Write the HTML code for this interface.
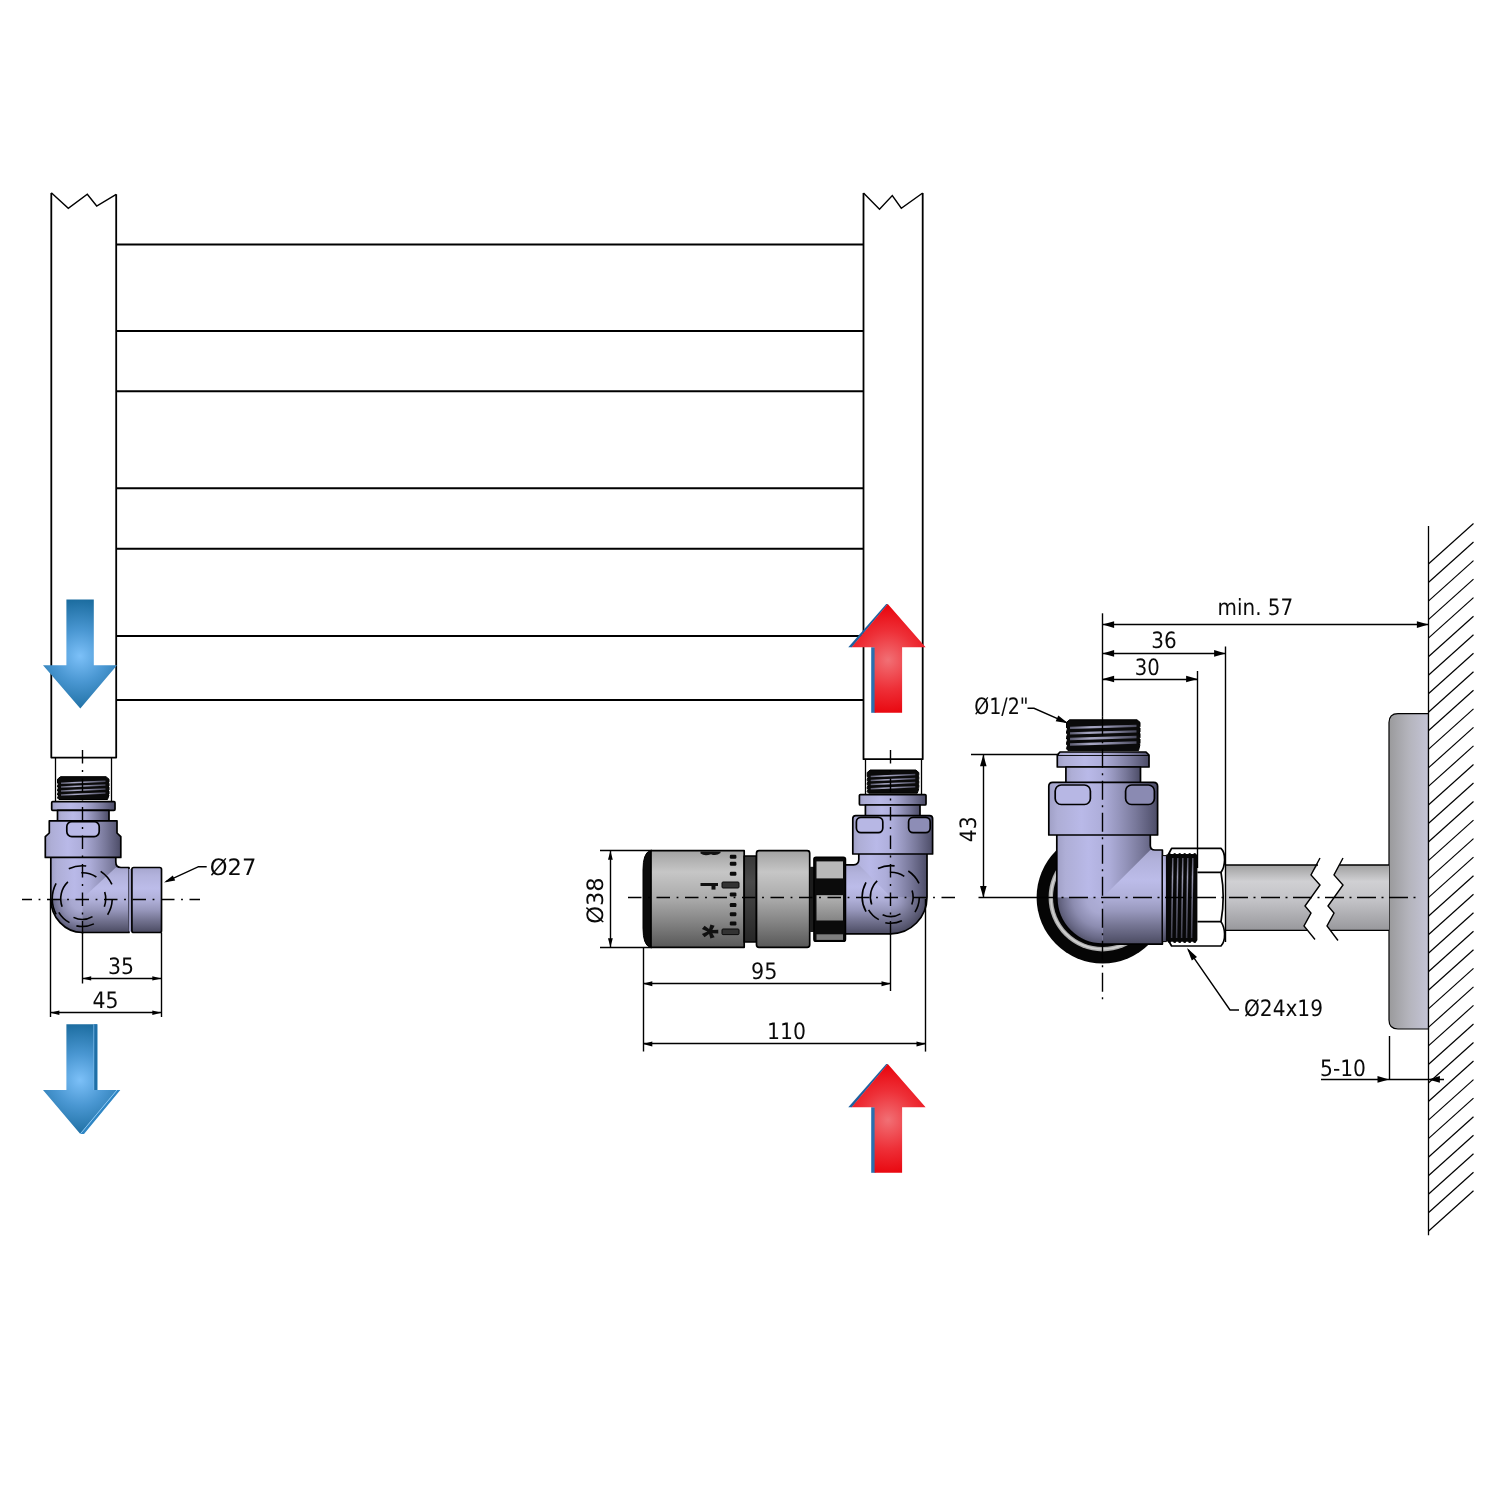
<!DOCTYPE html>
<html lang="en"><head><meta charset="utf-8"><title>Valve set dimensions</title>
<style>
html,body{margin:0;padding:0;background:#fff;}
body{width:1500px;height:1500px;overflow:hidden;font-family:"Liberation Sans",sans-serif;}
svg{display:block;position:absolute;left:0;top:0;}
.t{font-family:"DejaVu Sans Condensed", "Liberation Sans", sans-serif;font-size:22.5px;fill:#0a0a0a;}
.o{stroke:#000;stroke-width:1.7;fill:none;stroke-linejoin:round;}
.d{stroke:#000;stroke-width:1.4;fill:none;}
.c{stroke:#000;stroke-width:1.4;fill:none;stroke-dasharray:13.5 6.6 1.8 6.6;}
.c2{stroke:#000;stroke-width:1.4;fill:none;stroke-dasharray:19 5.5 2 5.5;}
.h{stroke:#000;stroke-width:1.3;fill:none;stroke-dasharray:11 6;}
.ah{fill:#000;stroke:none;}
text{text-rendering:geometricPrecision;}
</style></head><body>
<svg width="1500" height="1500" viewBox="0 0 1500 1500">
<defs>
<linearGradient id="gv" x1="0" y1="0" x2="1" y2="0">
 <stop offset="0" stop-color="#a0a0c6"/><stop offset="0.08" stop-color="#aeaed6"/><stop offset="0.3" stop-color="#b9b9e8"/><stop offset="0.5" stop-color="#adadd9"/><stop offset="0.65" stop-color="#9494bb"/><stop offset="0.8" stop-color="#78789a"/><stop offset="0.92" stop-color="#5e5e7c"/><stop offset="1" stop-color="#4c4c66"/>
</linearGradient>
<linearGradient id="gh" x1="0" y1="0" x2="0" y2="1">
 <stop offset="0" stop-color="#a6a6ce"/><stop offset="0.12" stop-color="#b2b2dc"/><stop offset="0.32" stop-color="#bcbce9"/><stop offset="0.5" stop-color="#b0b0d9"/><stop offset="0.65" stop-color="#9898bd"/><stop offset="0.8" stop-color="#767694"/><stop offset="0.92" stop-color="#5c5c76"/><stop offset="1" stop-color="#4a4a60"/>
</linearGradient>
<linearGradient id="gfl" x1="0" y1="0" x2="1" y2="0">
 <stop offset="0" stop-color="#a0a0c6"/><stop offset="0.08" stop-color="#aeaed6"/><stop offset="0.3" stop-color="#b9b9e8"/><stop offset="0.5" stop-color="#adadd9"/><stop offset="0.65" stop-color="#9494bb"/><stop offset="0.8" stop-color="#78789a"/><stop offset="0.92" stop-color="#5e5e7c"/><stop offset="1" stop-color="#4c4c66"/>
</linearGradient>
<linearGradient id="gg" x1="0" y1="0" x2="0" y2="1">
 <stop offset="0" stop-color="#a2a2a2"/><stop offset="0.22" stop-color="#c6c6c6"/><stop offset="0.5" stop-color="#aaaaaa"/><stop offset="0.75" stop-color="#828282"/><stop offset="1" stop-color="#585858"/>
</linearGradient>
<linearGradient id="gdk" x1="0" y1="0" x2="0" y2="1">
 <stop offset="0" stop-color="#383838"/><stop offset="0.3" stop-color="#4a4a4a"/><stop offset="1" stop-color="#262626"/>
</linearGradient>
<linearGradient id="gpipe" x1="0" y1="0" x2="0" y2="1">
 <stop offset="0" stop-color="#a0a0a0"/><stop offset="0.25" stop-color="#d0d0d3"/><stop offset="0.55" stop-color="#c2c2c6"/><stop offset="1" stop-color="#98989c"/>
</linearGradient>
<linearGradient id="gros" x1="0" y1="0" x2="1" y2="0">
 <stop offset="0" stop-color="#9a9a9c"/><stop offset="0.5" stop-color="#b4b4bc"/><stop offset="1" stop-color="#c4c4d6"/>
</linearGradient>
<linearGradient id="gg2" x1="0" y1="0" x2="0" y2="1">
 <stop offset="0" stop-color="#b4b4b4"/><stop offset="1" stop-color="#858585"/>
</linearGradient>
<linearGradient id="gh3" gradientUnits="userSpaceOnUse" x1="0" y1="850" x2="0" y2="944">
 <stop offset="0" stop-color="#a6a6ce"/><stop offset="0.12" stop-color="#b2b2dc"/><stop offset="0.32" stop-color="#bcbce9"/><stop offset="0.5" stop-color="#b0b0d9"/><stop offset="0.65" stop-color="#9898bd"/><stop offset="0.8" stop-color="#767694"/><stop offset="0.92" stop-color="#5c5c76"/><stop offset="1" stop-color="#4a4a60"/>
</linearGradient>
<linearGradient id="gth" gradientUnits="objectBoundingBox" x1="0" y1="0" x2="1" y2="0">
 <stop offset="0" stop-color="#5c5c70"/><stop offset="0.3" stop-color="#a8a8c4"/><stop offset="0.55" stop-color="#9494b0"/><stop offset="1" stop-color="#4a4a5c"/>
</linearGradient>
<linearGradient id="gh1" gradientUnits="userSpaceOnUse" x1="0" y1="867.5" x2="0" y2="932.5">
 <stop offset="0" stop-color="#a6a6ce"/><stop offset="0.12" stop-color="#b2b2dc"/><stop offset="0.32" stop-color="#bcbce9"/><stop offset="0.5" stop-color="#b0b0d9"/><stop offset="0.65" stop-color="#9898bd"/><stop offset="0.8" stop-color="#767694"/><stop offset="0.92" stop-color="#5c5c76"/><stop offset="1" stop-color="#4a4a60"/>
</linearGradient>
<linearGradient id="gh2" gradientUnits="userSpaceOnUse" x1="0" y1="864.8" x2="0" y2="933.8">
 <stop offset="0" stop-color="#a6a6ce"/><stop offset="0.12" stop-color="#b2b2dc"/><stop offset="0.32" stop-color="#bcbce9"/><stop offset="0.5" stop-color="#b0b0d9"/><stop offset="0.65" stop-color="#9898bd"/><stop offset="0.8" stop-color="#767694"/><stop offset="0.92" stop-color="#5c5c76"/><stop offset="1" stop-color="#4a4a60"/>
</linearGradient>
<linearGradient id="gth2" gradientUnits="userSpaceOnUse" x1="0" y1="856" x2="0" y2="940">
 <stop offset="0" stop-color="#4c4c5c"/><stop offset="0.25" stop-color="#9a9ab2"/><stop offset="0.5" stop-color="#6e6e84"/><stop offset="1" stop-color="#3a3a48"/>
</linearGradient>
<radialGradient id="gq1" gradientUnits="userSpaceOnUse" cx="82.2" cy="898.8" r="33.6">
 <stop offset="0" stop-color="#b0b0da"/><stop offset="0.35" stop-color="#a8a8d0"/><stop offset="0.65" stop-color="#8c8cb0"/><stop offset="0.88" stop-color="#6a6a88"/><stop offset="1" stop-color="#55556e"/>
</radialGradient>
<radialGradient id="gq2" gradientUnits="userSpaceOnUse" cx="890.8" cy="897" r="36.6">
 <stop offset="0" stop-color="#b0b0da"/><stop offset="0.3" stop-color="#9898bd"/><stop offset="0.6" stop-color="#767694"/><stop offset="0.84" stop-color="#5c5c76"/><stop offset="1" stop-color="#4a4a60"/>
</radialGradient>
<radialGradient id="gq3" gradientUnits="userSpaceOnUse" cx="1102.6" cy="897.4" r="46.2">
 <stop offset="0" stop-color="#b0b0da"/><stop offset="0.35" stop-color="#a8a8d0"/><stop offset="0.65" stop-color="#8c8cb0"/><stop offset="0.88" stop-color="#6a6a88"/><stop offset="1" stop-color="#55556e"/>
</radialGradient>
<radialGradient id="gblue" gradientUnits="userSpaceOnUse" cx="80" cy="656" r="62">
 <stop offset="0" stop-color="#7cc0f8"/><stop offset="0.42" stop-color="#4a97d2"/><stop offset="0.92" stop-color="#1b6c9f"/><stop offset="1" stop-color="#1b6c9f"/>
</radialGradient>
<radialGradient id="gblue2" gradientUnits="userSpaceOnUse" cx="80" cy="1080" r="62">
 <stop offset="0" stop-color="#7cc0f8"/><stop offset="0.42" stop-color="#4a97d2"/><stop offset="0.92" stop-color="#1b6c9f"/><stop offset="1" stop-color="#1b6c9f"/>
</radialGradient>
<radialGradient id="gred" gradientUnits="userSpaceOnUse" cx="888" cy="660" r="58">
 <stop offset="0" stop-color="#f17075"/><stop offset="0.5" stop-color="#ee3038"/><stop offset="1" stop-color="#e80008"/>
</radialGradient>
<radialGradient id="gred2" gradientUnits="userSpaceOnUse" cx="888" cy="1120" r="58">
 <stop offset="0" stop-color="#f17075"/><stop offset="0.5" stop-color="#ee3038"/><stop offset="1" stop-color="#e80008"/>
</radialGradient>
</defs>
<rect x="0" y="0" width="1500" height="1500" fill="#fff"/>

<!-- radiator -->
<line class="o" x1="116.2" y1="244.6" x2="863.5" y2="244.6" style="stroke-width:2"/>
<line class="o" x1="116.2" y1="331.0" x2="863.5" y2="331.0" style="stroke-width:2"/>
<line class="o" x1="116.2" y1="391.3" x2="863.5" y2="391.3" style="stroke-width:2"/>
<line class="o" x1="116.2" y1="488.3" x2="863.5" y2="488.3" style="stroke-width:2"/>
<line class="o" x1="116.2" y1="548.7" x2="863.5" y2="548.7" style="stroke-width:2"/>
<line class="o" x1="116.2" y1="636.0" x2="863.5" y2="636.0" style="stroke-width:2"/>
<line class="o" x1="116.2" y1="700.0" x2="863.5" y2="700.0" style="stroke-width:2"/>
<path class="o" style="stroke-width:1.8" d="M51.3,193 V757.6 H116.2 V194.3"/>
<path class="d" d="M51.3,192.7 L68.3,208.3 L87.3,194.3 L96.7,206 L116.2,194.3"/>
<path class="o" style="stroke-width:1.8" d="M863.5,193 V759.2 H922.7 V193"/>
<path class="d" d="M863.5,193 L879.5,209.3 L892.3,195.5 L901.3,208.2 L922.7,193"/>
<!-- flow arrows -->
<path d="M66.4,599.5 H93.8 V665.3 H117 L80.3,708.5 L43,665.3 H66.4 Z" fill="url(#gblue)"/>
<path d="M93.8,1024.3 H97.3 V1090 H120.3 L84,1133.9 H80.3 L117,1090 H93.8 Z" fill="#2f86c4"/>
<path d="M93.8,1024.3 H97.3 V1090 H93.8 Z" fill="#1f6fa6"/>
<path d="M66.4,1024.3 H93.8 V1090 H117 L80.3,1133.9 L43,1090 H66.4 Z" fill="url(#gblue2)"/>
<path d="M117,1090 L80.3,1133.9" stroke="#8ccaf6" stroke-width="0.9" fill="none"/>
<path d="M93.8,1024.3 V1090" stroke="#6db2e6" stroke-width="0.8" fill="none"/>
<path d="M848.3,647.2 L886.2,604.0 H888 L852,647.2 Z" fill="#1f62a0"/>
<path d="M871.2,647.2 H875.5 V712.8 H871.2 Z" fill="#2a6fae"/>
<path d="M887.8,604.0 L925.6,647.2 H902.1 V712.8 H874.6 V647.2 H851.6 Z" fill="url(#gred)"/>
<path d="M848.3,1107.2 L886.2,1064.0 H888 L852,1107.2 Z" fill="#1f62a0"/>
<path d="M871.2,1107.2 H875.5 V1172.8 H871.2 Z" fill="#2a6fae"/>
<path d="M887.8,1064.0 L925.6,1107.2 H902.1 V1172.8 H874.6 V1107.2 H851.6 Z" fill="url(#gred2)"/>
<!-- left return valve -->
<line class="d" x1="55.5" y1="757.6" x2="55.5" y2="801.7" style="stroke-width:1.3"/>
<line class="d" x1="111.5" y1="757.6" x2="111.5" y2="801.7" style="stroke-width:1.3"/>
<path d="M60.5,776.7 H106.0 L109.0,779.2 L109.0,782.2 L107.8,783.2 L109.0,783.2 L109.0,786.1 L107.8,787.1 L109.0,787.1 L109.0,790.1 L107.8,791.1 L109.0,791.1 L109.0,794.1 L107.8,795.0 L109.0,795.1 L107.5,799.5 H59.0 L57.5,798.0 L58.7,795.0 L57.5,795.0 L57.5,794.1 L58.7,791.1 L57.5,791.1 L57.5,790.1 L58.7,787.1 L57.5,787.1 L57.5,786.1 L58.7,783.2 L57.5,783.2 L57.5,779.2 Z" fill="#0a0a0a" stroke="#000" stroke-width="1"/>
<line x1="61.0" y1="783.2" x2="105.5" y2="781.2" stroke="url(#gth)" stroke-width="1.5"/>
<line x1="61.0" y1="787.1" x2="105.5" y2="785.1" stroke="url(#gth)" stroke-width="1.5"/>
<line x1="61.0" y1="791.1" x2="105.5" y2="789.1" stroke="url(#gth)" stroke-width="1.5"/>
<line x1="61.0" y1="795.0" x2="105.5" y2="793.0" stroke="url(#gth)" stroke-width="1.5"/>
<rect class="o" x="51.7" y="801.7" width="63.3" height="8.6" rx="1" ry="1" style="fill:url(#gfl)" />
<rect class="o" x="57.5" y="810.3" width="51.5" height="11.7" rx="0" ry="0" style="fill:url(#gv)" />
<clipPath id="cl1"><path d="M50.8,856 V899 A31.4,33.7 0 0 0 82.2,932.5 H129 V867.5 H121 Q115.8,867.5 115.8,862 V856 Z"/></clipPath>
<path d="M50.8,856 V899 A31.4,33.7 0 0 0 82.2,932.5 H129 V867.5 H121 Q115.8,867.5 115.8,862 V856 Z" fill="url(#gv)"/>
<g clip-path="url(#cl1)"><polygon points="115.8,867.5 130,867.5 130,933 82.2,933 82.2,898.8" fill="url(#gh1)"/><rect x="49" y="898.8" width="33.2" height="35" fill="url(#gq1)"/></g>
<path class="o" d="M50.8,856 V899 A31.4,33.7 0 0 0 82.2,932.5 H129 V867.5 H121 Q115.8,867.5 115.8,862 V856 Z"/>
<path class="o" d="M49.3,820.8 H117 V833 L120.8,836.7 V857.4 H45.3 V836.7 L49.3,833 Z" style="fill:url(#gv)"/>
<rect class="o" x="66.8" y="821.6" width="32.4" height="15.0" rx="5" ry="5" style="fill:#b9b9e6" />
<rect x="128.6" y="869" width="3.6" height="62.5" fill="#9a9ac2"/>
<rect class="o" x="131.9" y="867.5" width="29.6" height="65.0" rx="1.8" ry="1.8" style="fill:url(#gh)" />
<path d="M68.8,868.7 A33.0,33.0 0 0 1 86.2,866.0" fill="none" stroke="#000" stroke-width="1.6" stroke-linecap="butt"/>
<path d="M100.7,871.4 A33.0,33.0 0 0 1 111.9,884.3" fill="none" stroke="#000" stroke-width="1.6" stroke-linecap="butt"/>
<path d="M56.1,914.3 A33.0,33.0 0 0 1 56.1,883.3" fill="none" stroke="#000" stroke-width="1.6" stroke-linecap="butt"/>
<path d="M112.2,899.8 A30.0,30.0 0 0 1 107.6,914.7" fill="none" stroke="#000" stroke-width="1.6" stroke-linecap="butt"/>
<path d="M93.9,923.9 A27.7,27.7 0 0 1 76.4,925.9" fill="none" stroke="#000" stroke-width="1.6" stroke-linecap="butt"/>
<path d="M81.3,872.8 A26.0,26.0 0 0 1 96.4,877.0" fill="none" stroke="#000" stroke-width="1.6" stroke-linecap="butt"/>
<path d="M62.1,906.8 A23.5,23.5 0 0 1 67.9,881.9" fill="none" stroke="#000" stroke-width="1.6" stroke-linecap="butt"/>
<path d="M104.7,891.9 A23.5,23.5 0 0 1 104.3,906.8" fill="none" stroke="#000" stroke-width="1.6" stroke-linecap="butt"/>
<path d="M92.5,916.6 A20.5,20.5 0 0 1 73.5,917.4" fill="none" stroke="#000" stroke-width="1.6" stroke-linecap="butt"/>
<path d="M69.5,922.6 A27.0,27.0 0 0 1 58.8,912.3" fill="none" stroke="#000" stroke-width="1.6" stroke-linecap="butt"/>
<line class="c" x1="22.0" y1="899.5" x2="200.0" y2="899.5" stroke-dashoffset="3.5"/>
<line class="c" x1="82.5" y1="750.0" x2="82.5" y2="934.0" />
<line class="d" x1="50.5" y1="899.0" x2="50.5" y2="1017.0" />
<line class="d" x1="82.5" y1="932.5" x2="82.5" y2="983.5" />
<line class="d" x1="161.5" y1="932.5" x2="161.5" y2="1017.0" />
<line class="d" x1="82.2" y1="978.5" x2="161.3" y2="978.5" />
<polygon class="ah" points="82.2,978.4 91.2,980.6 91.2,976.2"/>
<polygon class="ah" points="161.3,978.4 152.3,976.2 152.3,980.6"/>
<line class="d" x1="50.4" y1="1012.5" x2="161.3" y2="1012.5" />
<polygon class="ah" points="50.4,1012.7 59.4,1014.9 59.4,1010.5"/>
<polygon class="ah" points="161.3,1012.7 152.3,1010.5 152.3,1014.9"/>
<g style="filter:grayscale(1)"><text class="t" x="108.0" y="974.0" textLength="26.0" lengthAdjust="spacingAndGlyphs">35</text></g>
<g style="filter:grayscale(1)"><text class="t" x="92.6" y="1008.0" textLength="26.0" lengthAdjust="spacingAndGlyphs">45</text></g>
<polyline class="d" points="206.7,866.7 198.5,866.7 166,881.6"/>
<polygon class="ah" points="164.0,882.5 175.2,880.5 172.8,875.4"/>
<g style="filter:grayscale(1)"><text class="t" x="209.8" y="875.0" textLength="46.5" lengthAdjust="spacingAndGlyphs">Ø27</text></g>
<!-- thermostatic valve -->
<line class="d" x1="865.5" y1="759.2" x2="865.5" y2="794.6" style="stroke-width:1.3"/>
<line class="d" x1="921.5" y1="759.2" x2="921.5" y2="794.6" style="stroke-width:1.3"/>
<path d="M870.2,770.0 H915.8 L918.8,772.5 L918.8,775.5 L917.6,776.5 L918.8,776.5 L918.8,779.6 L917.6,780.6 L918.8,780.6 L918.8,783.6 L917.6,784.6 L918.8,784.6 L918.8,787.6 L917.6,788.7 L918.8,788.7 L917.3,793.2 H868.7 L867.2,791.7 L868.4,788.7 L867.2,788.7 L867.2,787.6 L868.4,784.6 L867.2,784.6 L867.2,783.6 L868.4,780.6 L867.2,780.6 L867.2,779.6 L868.4,776.5 L867.2,776.5 L867.2,772.5 Z" fill="#0a0a0a" stroke="#000" stroke-width="1"/>
<line x1="870.7" y1="776.5" x2="915.3" y2="774.5" stroke="url(#gth)" stroke-width="1.5"/>
<line x1="870.7" y1="780.6" x2="915.3" y2="778.6" stroke="url(#gth)" stroke-width="1.5"/>
<line x1="870.7" y1="784.6" x2="915.3" y2="782.6" stroke="url(#gth)" stroke-width="1.5"/>
<line x1="870.7" y1="788.7" x2="915.3" y2="786.7" stroke="url(#gth)" stroke-width="1.5"/>
<rect class="o" x="859.4" y="794.6" width="66.6" height="10.4" rx="1" ry="1" style="fill:url(#gfl)" />
<rect class="o" x="865.4" y="805.0" width="54.6" height="11.5" rx="0" ry="0" style="fill:url(#gv)" />
<clipPath id="cl2"><path d="M858.8,852 V859.5 Q858.8,864.8 853.5,864.8 H845 V933.8 H890.8 A36.2,36.8 0 0 0 927,897 V852 Z"/></clipPath>
<path d="M858.8,852 V859.5 Q858.8,864.8 853.5,864.8 H845 V933.8 H890.8 A36.2,36.8 0 0 0 927,897 V852 Z" fill="url(#gv)"/>
<g clip-path="url(#cl2)"><polygon points="858.8,864.8 844,864.8 844,935 890.8,935 890.8,897" fill="url(#gh2)"/><rect x="890.8" y="897" width="38" height="38" fill="url(#gq2)"/></g>
<path class="o" d="M858.8,852 V859.5 Q858.8,864.8 853.5,864.8 H845 V933.8 H890.8 A36.2,36.8 0 0 0 927,897 V852 Z"/>
<path class="o" d="M855.8,815.6 H929.6 Q932.6,815.6 932.6,818.6 V854 H852.8 V818.6 Q852.8,815.6 855.8,815.6 Z" style="fill:url(#gv)"/>
<rect class="o" x="856.4" y="817.4" width="26.4" height="15.2" rx="4.5" ry="4.5" style="fill:#b7b7e4" />
<rect class="o" x="908.6" y="817.4" width="21.6" height="15.2" rx="4.5" ry="4.5" style="fill:#8d8db6" />
<path d="M652,850.7 H650 Q643,853 643,870 V928 Q643,945 650,947.3 H652 Z" fill="#0b0b0b" stroke="#000" stroke-width="1"/>
<rect class="o" x="651" y="850.7" width="93.2" height="96.6" style="fill:url(#gg)"/>
<rect class="o" x="744.2" y="856" width="12.3" height="86" style="fill:url(#gdk)"/>
<rect class="o" x="756.5" y="850.7" width="53.2" height="96.6" rx="2.5" ry="2.5" style="fill:url(#gg)" />
<rect x="809.7" y="866.8" width="5" height="65.2" fill="#1c1c1c"/>
<rect class="o" x="814.0" y="857.3" width="31.4" height="83.9" rx="2" ry="2" style="fill:#0b0b0b" />
<rect x="816.5" y="861.4" width="26.5" height="17" fill="#b9b9b9"/>
<rect x="816.5" y="895.2" width="26.5" height="25.3" fill="url(#gg2)"/>
<rect x="816.5" y="934.3" width="26.5" height="5.6" fill="#7d7d7d"/>
<rect x="729.8" y="854.8" width="6.6" height="4" rx="1.2" fill="#0c0c0c"/>
<rect x="729.8" y="861.7" width="6.6" height="4" rx="1.2" fill="#0c0c0c"/>
<rect x="729.8" y="871.7" width="6.6" height="4" rx="1.2" fill="#0c0c0c"/>
<rect x="729.8" y="892.4" width="6.6" height="4" rx="1.2" fill="#0c0c0c"/>
<rect x="729.8" y="903.1" width="6.6" height="4" rx="1.2" fill="#0c0c0c"/>
<rect x="729.8" y="912.3" width="6.6" height="4" rx="1.2" fill="#0c0c0c"/>
<rect x="729.8" y="921.5" width="6.6" height="4" rx="1.2" fill="#0c0c0c"/>
<rect x="722" y="882" width="17" height="6" rx="1" fill="#333" stroke="#0a0a0a" stroke-width="1"/><rect x="722" y="929" width="17" height="5.6" rx="1" fill="#333" stroke="#0a0a0a" stroke-width="1"/>
<rect x="700.5" y="883" width="17.5" height="3" fill="#111"/><rect x="711.5" y="885" width="4" height="4.6" fill="#111"/>
<path d="M700.5,851.5 H720.5 V853 Q716,856.5 711,854.2 Q705,856.8 700.5,853.6 Z" fill="#111"/>
<g style="filter:grayscale(1)"><text x="702.3" y="952.5" transform="rotate(90 709.3 931.5)" textLength="14" lengthAdjust="spacingAndGlyphs" style="font-family:&quot;Liberation Sans&quot;,sans-serif;font-weight:bold;font-size:44px;fill:#111">*</text></g>
<path d="M878.0,868.4 A31.3,31.3 0 0 1 894.6,865.9" fill="none" stroke="#000" stroke-width="1.6" stroke-linecap="butt"/>
<path d="M908.3,871.0 A31.3,31.3 0 0 1 919.0,883.3" fill="none" stroke="#000" stroke-width="1.6" stroke-linecap="butt"/>
<path d="M866.0,911.7 A31.3,31.3 0 0 1 866.0,882.3" fill="none" stroke="#000" stroke-width="1.6" stroke-linecap="butt"/>
<path d="M919.3,898.0 A28.5,28.5 0 0 1 915.0,912.1" fill="none" stroke="#000" stroke-width="1.6" stroke-linecap="butt"/>
<path d="M901.9,920.8 A26.3,26.3 0 0 1 885.3,922.7" fill="none" stroke="#000" stroke-width="1.6" stroke-linecap="butt"/>
<path d="M889.9,872.3 A24.7,24.7 0 0 1 904.3,876.3" fill="none" stroke="#000" stroke-width="1.6" stroke-linecap="butt"/>
<path d="M871.7,904.6 A22.3,22.3 0 0 1 877.2,880.9" fill="none" stroke="#000" stroke-width="1.6" stroke-linecap="butt"/>
<path d="M912.1,890.5 A22.3,22.3 0 0 1 911.8,904.6" fill="none" stroke="#000" stroke-width="1.6" stroke-linecap="butt"/>
<path d="M900.5,913.9 A19.5,19.5 0 0 1 882.6,914.7" fill="none" stroke="#000" stroke-width="1.6" stroke-linecap="butt"/>
<path d="M878.8,919.6 A25.6,25.6 0 0 1 868.6,909.8" fill="none" stroke="#000" stroke-width="1.6" stroke-linecap="butt"/>
<line class="c" x1="628.0" y1="897.5" x2="958.0" y2="897.5" />
<line class="c" x1="890.5" y1="750.0" x2="890.5" y2="935.0" />
<line class="d" x1="600.0" y1="850.5" x2="652.0" y2="850.5" />
<line class="d" x1="600.0" y1="947.5" x2="652.0" y2="947.5" />
<line class="d" x1="610.5" y1="850.7" x2="610.5" y2="947.3" />
<polygon class="ah" points="610.4,850.7 608.0,859.7 612.8,859.7"/>
<polygon class="ah" points="610.4,947.3 612.8,938.3 608.0,938.3"/>
<g style="filter:grayscale(1)"><text class="t" x="603.2" y="923.8" textLength="46.5" lengthAdjust="spacingAndGlyphs" transform="rotate(-90 603.2 923.8)">Ø38</text></g>
<line class="d" x1="643.5" y1="947.0" x2="643.5" y2="1051.5" />
<line class="d" x1="890.5" y1="934.0" x2="890.5" y2="991.0" />
<line class="d" x1="925.5" y1="899.0" x2="925.5" y2="1051.6" />
<line class="d" x1="643.0" y1="983.5" x2="890.8" y2="983.5" />
<polygon class="ah" points="643.0,983.8 652.3,986.3 652.3,981.3"/>
<polygon class="ah" points="890.8,983.8 881.5,981.3 881.5,986.3"/>
<line class="d" x1="643.0" y1="1043.5" x2="925.8" y2="1043.5" />
<polygon class="ah" points="643.0,1043.9 652.3,1046.4 652.3,1041.4"/>
<polygon class="ah" points="925.8,1043.9 916.5,1041.4 916.5,1046.4"/>
<g style="filter:grayscale(1)"><text class="t" x="751.0" y="978.7" textLength="26.4" lengthAdjust="spacingAndGlyphs">95</text></g>
<g style="filter:grayscale(1)"><text class="t" x="767.0" y="1038.5" textLength="39.0" lengthAdjust="spacingAndGlyphs">110</text></g>
<!-- side view -->
<line class="d" x1="1428.4" y1="564.0" x2="1473.5" y2="523.5" style="stroke-width:1.2"/>
<line class="d" x1="1428.4" y1="582.5" x2="1473.5" y2="542.0" style="stroke-width:1.2"/>
<line class="d" x1="1428.4" y1="601.1" x2="1473.5" y2="560.6" style="stroke-width:1.2"/>
<line class="d" x1="1428.4" y1="619.6" x2="1473.5" y2="579.1" style="stroke-width:1.2"/>
<line class="d" x1="1428.4" y1="638.1" x2="1473.5" y2="597.6" style="stroke-width:1.2"/>
<line class="d" x1="1428.4" y1="656.7" x2="1473.5" y2="616.2" style="stroke-width:1.2"/>
<line class="d" x1="1428.4" y1="675.2" x2="1473.5" y2="634.7" style="stroke-width:1.2"/>
<line class="d" x1="1428.4" y1="693.8" x2="1473.5" y2="653.3" style="stroke-width:1.2"/>
<line class="d" x1="1428.4" y1="712.3" x2="1473.5" y2="671.8" style="stroke-width:1.2"/>
<line class="d" x1="1428.4" y1="730.8" x2="1473.5" y2="690.3" style="stroke-width:1.2"/>
<line class="d" x1="1428.4" y1="749.4" x2="1473.5" y2="708.9" style="stroke-width:1.2"/>
<line class="d" x1="1428.4" y1="767.9" x2="1473.5" y2="727.4" style="stroke-width:1.2"/>
<line class="d" x1="1428.4" y1="786.4" x2="1473.5" y2="745.9" style="stroke-width:1.2"/>
<line class="d" x1="1428.4" y1="805.0" x2="1473.5" y2="764.5" style="stroke-width:1.2"/>
<line class="d" x1="1428.4" y1="823.5" x2="1473.5" y2="783.0" style="stroke-width:1.2"/>
<line class="d" x1="1428.4" y1="842.0" x2="1473.5" y2="801.5" style="stroke-width:1.2"/>
<line class="d" x1="1428.4" y1="860.6" x2="1473.5" y2="820.1" style="stroke-width:1.2"/>
<line class="d" x1="1428.4" y1="879.1" x2="1473.5" y2="838.6" style="stroke-width:1.2"/>
<line class="d" x1="1428.4" y1="897.6" x2="1473.5" y2="857.1" style="stroke-width:1.2"/>
<line class="d" x1="1428.4" y1="916.2" x2="1473.5" y2="875.7" style="stroke-width:1.2"/>
<line class="d" x1="1428.4" y1="934.7" x2="1473.5" y2="894.2" style="stroke-width:1.2"/>
<line class="d" x1="1428.4" y1="953.3" x2="1473.5" y2="912.8" style="stroke-width:1.2"/>
<line class="d" x1="1428.4" y1="971.8" x2="1473.5" y2="931.3" style="stroke-width:1.2"/>
<line class="d" x1="1428.4" y1="990.3" x2="1473.5" y2="949.8" style="stroke-width:1.2"/>
<line class="d" x1="1428.4" y1="1008.9" x2="1473.5" y2="968.4" style="stroke-width:1.2"/>
<line class="d" x1="1428.4" y1="1027.4" x2="1473.5" y2="986.9" style="stroke-width:1.2"/>
<line class="d" x1="1428.4" y1="1045.9" x2="1473.5" y2="1005.4" style="stroke-width:1.2"/>
<line class="d" x1="1428.4" y1="1064.5" x2="1473.5" y2="1024.0" style="stroke-width:1.2"/>
<line class="d" x1="1428.4" y1="1083.0" x2="1473.5" y2="1042.5" style="stroke-width:1.2"/>
<line class="d" x1="1428.4" y1="1101.5" x2="1473.5" y2="1061.0" style="stroke-width:1.2"/>
<line class="d" x1="1428.4" y1="1120.1" x2="1473.5" y2="1079.6" style="stroke-width:1.2"/>
<line class="d" x1="1428.4" y1="1138.6" x2="1473.5" y2="1098.1" style="stroke-width:1.2"/>
<line class="d" x1="1428.4" y1="1157.2" x2="1473.5" y2="1116.7" style="stroke-width:1.2"/>
<line class="d" x1="1428.4" y1="1175.7" x2="1473.5" y2="1135.2" style="stroke-width:1.2"/>
<line class="d" x1="1428.4" y1="1194.2" x2="1473.5" y2="1153.7" style="stroke-width:1.2"/>
<line class="d" x1="1428.4" y1="1212.8" x2="1473.5" y2="1172.3" style="stroke-width:1.2"/>
<line class="d" x1="1428.4" y1="1231.3" x2="1473.5" y2="1190.8" style="stroke-width:1.2"/>
<line class="d" x1="1428.5" y1="526.0" x2="1428.5" y2="1235.3" style="stroke-width:1.3"/>
<path class="o" style="fill:url(#gros);stroke-width:1.2" d="M1428.4,713.6 H1398 Q1389,713.6 1389,722.6 V1020 Q1389,1029 1398,1029 H1428.4 Z"/>
<path d="M1226,865 H1318 L1311,875 L1320,885 L1305,906 L1311,913 L1304,926 L1307.5,930.4 H1226 Z" fill="url(#gpipe)"/><path d="M1389,865 H1339.5 L1334,875 L1343,885 L1328,906 L1334,913 L1327,926 L1330.5,930.4 H1389 Z" fill="url(#gpipe)"/>
<path class="d" style="stroke-width:1.3" d="M1226,865 H1318 M1226,930.4 H1307.5 M1339.5,865 H1389 M1330.5,930.4 H1389"/>
<polyline class="d" points="1320,858 1311,875 1320,885 1305,906 1311,913 1304,926 1315,939.5"/>
<polyline class="d" points="1343,858 1334,875 1343,885 1328,906 1334,913 1327,926 1338,940.5"/>
<circle cx="1102.6" cy="897.4" r="66" fill="#050505"/>
<circle cx="1102.6" cy="897.4" r="54" fill="#adadad"/>
<circle cx="1102.6" cy="897.4" r="51.6" fill="none" stroke="#d0d0d0" stroke-width="1.6"/>
<circle cx="1102.6" cy="897.4" r="49.6" fill="#050505"/>
<path d="M1069.5,719.8 H1137.0 L1140.0,722.3 L1140.0,726.5 L1138.8,727.9 L1140.0,727.9 L1140.0,732.0 L1138.8,733.4 L1140.0,733.4 L1140.0,737.6 L1138.8,739.0 L1140.0,739.0 L1140.0,743.2 L1138.8,744.5 L1140.0,744.6 L1138.5,750.6 H1068.0 L1066.5,748.7 L1067.7,744.5 L1066.5,744.5 L1066.5,743.1 L1067.7,739.0 L1066.5,739.0 L1066.5,737.6 L1067.7,733.4 L1066.5,733.4 L1066.5,732.0 L1067.7,727.9 L1066.5,727.9 L1066.5,722.3 Z" fill="#0a0a0a" stroke="#000" stroke-width="1"/>
<line x1="1070.0" y1="727.9" x2="1136.5" y2="725.9" stroke="url(#gth)" stroke-width="2.3"/>
<line x1="1070.0" y1="733.4" x2="1136.5" y2="731.4" stroke="url(#gth)" stroke-width="2.3"/>
<line x1="1070.0" y1="739.0" x2="1136.5" y2="737.0" stroke="url(#gth)" stroke-width="2.3"/>
<line x1="1070.0" y1="744.5" x2="1136.5" y2="742.5" stroke="url(#gth)" stroke-width="2.3"/>
<path class="o" style="fill:url(#gfl)" d="M1060,752 H1146 L1149,755 V767 H1057.3 V755 Z"/>
<line class="d" x1="1057.3" y1="755.5" x2="1149.0" y2="755.5" style="stroke-width:0.9"/>
<rect class="o" x="1065.9" y="767.0" width="74.6" height="16.0" rx="0" ry="0" style="fill:url(#gv)" />
<clipPath id="cl3"><path d="M1056.8,833 V898 A45.8,46.2 0 0 0 1102.6,944.1 H1162.4 V850 H1155 Q1150.3,850 1150.3,845.5 V833 Z"/></clipPath>
<path d="M1056.8,833 V898 A45.8,46.2 0 0 0 1102.6,944.1 H1162.4 V850 H1155 Q1150.3,850 1150.3,845.5 V833 Z" fill="url(#gv)"/>
<g clip-path="url(#cl3)"><polygon points="1150.3,850 1164,850 1164,946 1102.6,946 1102.6,897.4" fill="url(#gh3)"/><rect x="1055" y="897.4" width="47.6" height="48" fill="url(#gq3)"/></g>
<path class="o" d="M1056.8,833 V898 A45.8,46.2 0 0 0 1102.6,944.1 H1162.4 V850 H1155 Q1150.3,850 1150.3,845.5 V833 Z"/>
<path class="o" d="M1052.8,782.3 H1153.6 Q1157.6,782.3 1157.6,786.3 V835 H1048.8 V786.3 Q1048.8,782.3 1052.8,782.3 Z" style="fill:url(#gv)"/>
<rect class="o" x="1055.2" y="785.0" width="35.2" height="19.5" rx="6" ry="6" style="fill:#b7b7e4" />
<rect class="o" x="1125.6" y="785.0" width="28.8" height="19.5" rx="6" ry="6" style="fill:#8a8ab2" />
<rect class="o" x="1162.4" y="855.6" width="4" height="86" style="fill:url(#gh);stroke-width:1"/>
<rect x="1166" y="854" width="31.4" height="87.8" rx="2" fill="#070707"/>
<line x1="1172.8" y1="858" x2="1171.6000000000001" y2="938" stroke="url(#gth2)" stroke-width="1.5"/>
<line x1="1177.8" y1="858" x2="1176.6000000000001" y2="938" stroke="url(#gth2)" stroke-width="1.5"/>
<line x1="1182.8" y1="858" x2="1181.6000000000001" y2="938" stroke="url(#gth2)" stroke-width="1.5"/>
<line x1="1187.8" y1="858" x2="1186.6000000000001" y2="938" stroke="url(#gth2)" stroke-width="1.5"/>
<line x1="1192.8" y1="858" x2="1191.6000000000001" y2="938" stroke="url(#gth2)" stroke-width="1.5"/>
<circle cx="1169.5" cy="854.6" r="1.5" fill="#070707"/><circle cx="1169.5" cy="941.4" r="1.5" fill="#070707"/>
<circle cx="1174.7" cy="854.6" r="1.5" fill="#070707"/><circle cx="1174.7" cy="941.4" r="1.5" fill="#070707"/>
<circle cx="1179.7" cy="854.6" r="1.5" fill="#070707"/><circle cx="1179.7" cy="941.4" r="1.5" fill="#070707"/>
<circle cx="1184.7" cy="854.6" r="1.5" fill="#070707"/><circle cx="1184.7" cy="941.4" r="1.5" fill="#070707"/>
<circle cx="1189.7" cy="854.6" r="1.5" fill="#070707"/><circle cx="1189.7" cy="941.4" r="1.5" fill="#070707"/>
<circle cx="1194.7" cy="854.6" r="1.5" fill="#070707"/><circle cx="1194.7" cy="941.4" r="1.5" fill="#070707"/>
<path class="o" d="M1168.4,854.5 L1171.6,848.4 H1221 Q1224.8,852 1224.6,860 Q1224.4,867.5 1221,872.4 Q1225.4,897 1221,921.6 Q1224.4,927 1224.6,934 Q1224.8,942 1221,946 H1171.6 L1168.4,940.5"/>
<path class="o" d="M1197.4,872.4 H1221 M1197.4,921.6 H1221"/>
<line class="d" x1="978.5" y1="897.5" x2="1037.0" y2="897.5" />
<line class="c2" x1="1037.0" y1="897.5" x2="1418.0" y2="897.5" />
<line class="c2" x1="1102.5" y1="716.8" x2="1102.5" y2="1004.0" />
<line class="d" x1="1102.5" y1="613.3" x2="1102.5" y2="716.8" />
<line class="d" x1="1225.5" y1="646.4" x2="1225.5" y2="942.0" />
<line class="d" x1="1197.5" y1="671.0" x2="1197.5" y2="868.0" />
<line class="d" x1="1102.6" y1="624.5" x2="1428.4" y2="624.5" />
<polygon class="ah" points="1102.6,624.6 1114.1,627.9 1114.1,621.3"/>
<polygon class="ah" points="1428.4,624.6 1416.9,621.3 1416.9,627.9"/>
<line class="d" x1="1102.6" y1="653.5" x2="1225.6" y2="653.5" />
<polygon class="ah" points="1102.6,653.4 1114.1,656.7 1114.1,650.1"/>
<polygon class="ah" points="1225.6,653.4 1214.1,650.1 1214.1,656.7"/>
<line class="d" x1="1102.6" y1="679.5" x2="1197.6" y2="679.5" />
<polygon class="ah" points="1102.6,679.0 1114.1,682.3 1114.1,675.7"/>
<polygon class="ah" points="1197.6,679.0 1186.1,675.7 1186.1,682.3"/>
<g style="filter:grayscale(1)"><text class="t" x="1217.6" y="615.0" textLength="75.6" lengthAdjust="spacingAndGlyphs">min. 57</text></g>
<g style="filter:grayscale(1)"><text class="t" x="1151.3" y="648.0" textLength="25.4" lengthAdjust="spacingAndGlyphs">36</text></g>
<g style="filter:grayscale(1)"><text class="t" x="1134.8" y="674.8" textLength="25.0" lengthAdjust="spacingAndGlyphs">30</text></g>
<line class="d" x1="971.0" y1="754.5" x2="1059.0" y2="754.5" />
<line class="d" x1="983.5" y1="754.8" x2="983.5" y2="897.4" />
<polygon class="ah" points="983.3,754.8 980.0,766.3 986.6,766.3"/>
<polygon class="ah" points="983.3,897.4 986.6,885.9 980.0,885.9"/>
<g style="filter:grayscale(1)"><text class="t" x="976.0" y="842.3" textLength="26.0" lengthAdjust="spacingAndGlyphs" transform="rotate(-90 976.0 842.3)">43</text></g>
<polyline class="d" points="1027.5,708.3 1034,708.3 1066,722.3"/>
<polygon class="ah" points="1068.0,723.2 1058.3,715.5 1055.7,721.3"/>
<g style="filter:grayscale(1)"><text class="t" x="974.2" y="714.0" textLength="54.3" lengthAdjust="spacingAndGlyphs">Ø1/2&quot;</text></g>
<polyline class="d" points="1239,1010 1230,1010 1188.2,949.7"/>
<polygon class="ah" points="1187.0,948.0 1191.8,960.5 1197.0,956.9"/>
<g style="filter:grayscale(1)"><text class="t" x="1244.0" y="1015.6" textLength="79.0" lengthAdjust="spacingAndGlyphs">Ø24x19</text></g>
<line class="d" x1="1389.5" y1="1036.0" x2="1389.5" y2="1080.0" />
<line class="d" x1="1321.0" y1="1079.5" x2="1444.0" y2="1079.5" />
<polygon class="ah" points="1389.0,1079.4 1377.5,1076.1 1377.5,1082.7"/>
<polygon class="ah" points="1428.4,1079.4 1439.9,1082.7 1439.9,1076.1"/>
<g style="filter:grayscale(1)"><text class="t" x="1320.0" y="1076.0" textLength="46.0" lengthAdjust="spacingAndGlyphs">5-10</text></g>
</svg>
</body></html>
